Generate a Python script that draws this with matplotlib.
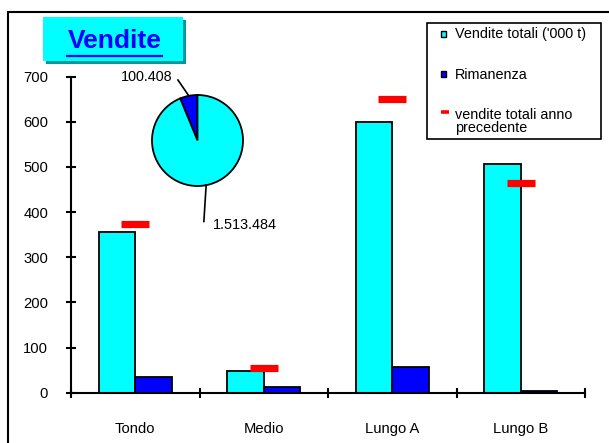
import matplotlib
matplotlib.use('Agg')
import matplotlib.pyplot as plt
from matplotlib.patches import Rectangle
from matplotlib.lines import Line2D
import numpy as np

plt.rcParams['font.family'] = ['Liberation Sans', 'DejaVu Sans']

# data
categorie = ['Tondo', 'Medio', 'Lungo A', 'Lungo B']
vendite_totali = [356, 49, 600, 507]
rimanenza = [35, 13, 57, 4]
vendite_anno_prec = [373, 55, 650, 465]
torta_valori = [100408, 1513484]
torta_etichette = ['100.408', '1.513.484']
yticks = [0, 100, 200, 300, 400, 500, 600, 700]

W, H = 609, 443


def fx(px):
    return px / W


def fy(py):
    return 1 - py / H


fig = plt.figure(figsize=(W / 100, H / 100), dpi=100)
fig.patch.set_facecolor('white')

# outer frame (clipped on the right and bottom)
fig.patches.append(Rectangle((fx(8), fy(460)), 1.2, (460 - 12) / H, transform=fig.transFigure,
                             fill=False, edgecolor='black', linewidth=1.5))

ax = fig.add_axes([fx(71), fy(392.7), (585 - 71) / W, (392.7 - 76.5) / H])
x = np.arange(len(categorie)) + 0.5
bw = 0.285
ax.bar(x - bw, vendite_totali, width=bw, align='edge', color='#00FFFF', edgecolor='black', linewidth=1.3, zorder=2)
ax.bar(x, rimanenza, width=bw, align='edge', color='#0000FF', edgecolor='black', linewidth=1.3, zorder=2)
ax.plot(x, vendite_anno_prec, linestyle='none', marker='_', markersize=20, markeredgewidth=5.2,
        color='#FF0000', zorder=3)

ax.set_xlim(0, len(categorie))
ax.set_ylim(0, 700)
ax.set_yticks(yticks)
ax.set_xticks(np.arange(len(categorie) + 1))
ax.set_xticklabels([])
ax.set_xticks(x, minor=True)
ax.set_xticklabels(categorie, minor=True)
ax.tick_params(axis='y', direction='inout', length=6.5, width=1.5, pad=13.3, labelsize=10.6)
ax.tick_params(axis='x', which='major', direction='inout', length=7.5, width=1.5)
ax.tick_params(axis='x', which='minor', length=0, pad=21, labelsize=10.6)
for s in ['top', 'right']:
    ax.spines[s].set_visible(False)
for s in ['left', 'bottom']:
    ax.spines[s].set_linewidth(1.5)
ax.patch.set_alpha(0)

# pie
pax = fig.add_axes([fx(197.5 - 45.5), fy(140.5 + 45.5), 91 / W, 91 / H])
wedges, _ = pax.pie(torta_valori, colors=['#0000FF', '#00FFFF'], startangle=90, counterclock=True,
                    wedgeprops=dict(edgecolor='black', linewidth=1.3))
for w in wedges:
    w.set_clip_on(False)
pax.set_xlim(-1, 1)
pax.set_ylim(-1, 1)
pax.plot([-0.19, -0.43], [0.98, 1.33], color='black', linewidth=1.2, clip_on=False)
pax.text(-0.56, 1.40, torta_etichette[0], ha='right', va='center', fontsize=10.4)
pax.plot([0.19, 0.14], [-0.98, -1.78], color='black', linewidth=1.2, clip_on=False)
pax.text(0.34, -1.86, torta_etichette[1], ha='left', va='center', fontsize=10.4)

# title box
fig.patches.append(Rectangle((fx(45.5), fy(63.5)), 140 / W, 43.5 / H, transform=fig.transFigure,
                             facecolor='#009999', edgecolor='none'))
fig.patches.append(Rectangle((fx(42.7), fy(60.7)), 140 / W, 43.5 / H, transform=fig.transFigure,
                             facecolor='#00FFFF', edgecolor='none'))
fig.text(fx(114.5), fy(41.5), 'Vendite', ha='center', va='center', fontsize=19, fontweight='bold',
         color='#0000FF')
fig.lines.append(Line2D([fx(66.7), fx(162.3)], [fy(56.3), fy(56.3)], transform=fig.transFigure,
                        color='#0000FF', linewidth=1.6))

# legend
fig.patches.append(Rectangle((fx(427.3), fy(139.3)), (600.7 - 427.3) / W, (139.3 - 23.3) / H,
                             transform=fig.transFigure, facecolor='white', edgecolor='black', linewidth=1.2))
fig.patches.append(Rectangle((fx(440.7), fy(36.7)), 5 / W, 6 / H, transform=fig.transFigure,
                             facecolor='#00FFFF', edgecolor='black', linewidth=1))
fig.patches.append(Rectangle((fx(440.7), fy(76.7)), 5 / W, 6 / H, transform=fig.transFigure,
                             facecolor='#0000FF', edgecolor='black', linewidth=1))
fig.lines.append(Line2D([fx(440.7), fx(449.3)], [fy(112.3), fy(112.3)], transform=fig.transFigure,
                        color='#FF0000', linewidth=2.6, solid_capstyle='butt'))
fig.text(fx(455), fy(34.3), "Vendite totali ('000 t)", ha='left', va='center', fontsize=10.4)
fig.text(fx(455), fy(75), 'Rimanenza', ha='left', va='center', fontsize=10.4)
fig.text(fx(455), fy(121.3), 'vendite totali anno\nprecedente', ha='left', va='center', fontsize=10.4,
         linespacing=0.88)

fig.savefig('out.png', dpi=100)
